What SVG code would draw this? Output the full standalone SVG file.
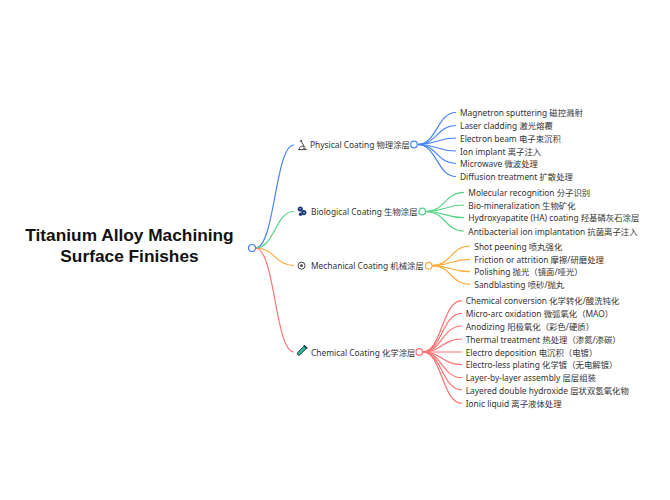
<svg xmlns="http://www.w3.org/2000/svg" width="670" height="500" viewBox="0 0 670 500">
<style>
.lbl{font-family:"Noto Sans","Noto Sans CJK SC",sans-serif;font-size:8.4px;fill:#333;dominant-baseline:central}
.root{font-family:"Liberation Sans",Arial,sans-serif;font-size:17.3px;font-weight:bold;fill:#111;text-anchor:middle}
.lk{fill:none;stroke-width:1.2}
.b{stroke:#4482f6}.g{stroke:#55d385}.o{stroke:#ffab3a}.r{stroke:#ff7272}
.dot{fill:#fff;stroke-width:1.2}
</style>
<rect width="670" height="500" fill="#fff"/>
<g id="connectors">
<path class="lk b" d="M255.5 248C275 248 275 145 294 145"/>
<path class="lk g" d="M255.5 248C275 248 275 211.5 294 211.5"/>
<path class="lk o" d="M255.5 248C275 248 275 265.5 294 265.5"/>
<path class="lk r" d="M255.5 248C275 248 275 352 294 352"/>
<g class="lk b">
<path d="M417.5 144.5C437 144.5 437 112.5 456 112.5"/>
<path d="M417.5 144.5C437 144.5 437 125.5 456 125.5"/>
<path d="M417.5 144.5C437 144.5 437 138 456 138"/>
<path d="M417.5 144.5C437 144.5 437 151 456 151"/>
<path d="M417.5 144.5C437 144.5 437 163.5 456 163.5"/>
<path d="M417.5 144.5C437 144.5 437 176.5 456 176.5"/>
</g>
<g class="lk g">
<path d="M425.8 211.5C445 211.5 445 192.3 464 192.3"/>
<path d="M425.8 211.5C445 211.5 445 205 464 205"/>
<path d="M425.8 211.5C445 211.5 445 217.7 464 217.7"/>
<path d="M425.8 211.5C445 211.5 445 231 464 231"/>
</g>
<g class="lk o">
<path d="M432 265.7C451 265.7 451 246 470 246"/>
<path d="M432 265.7C451 265.7 451 259.3 470 259.3"/>
<path d="M432 265.7C451 265.7 451 271.7 470 271.7"/>
<path d="M432 265.7C451 265.7 451 284.3 470 284.3"/>
</g>
<g class="lk r">
<path d="M422.8 352C442 352 442 300.7 462 300.7"/>
<path d="M422.8 352C442 352 442 313.3 462 313.3"/>
<path d="M422.8 352C442 352 442 326 462 326"/>
<path d="M422.8 352C442 352 442 339 462 339"/>
<path d="M422.8 352C442 352 442 352 462 352"/>
<path d="M422.8 352C442 352 442 364.7 462 364.7"/>
<path d="M422.8 352C442 352 442 377.7 462 377.7"/>
<path d="M422.8 352C442 352 442 390 462 390"/>
<path d="M422.8 352C442 352 442 403.3 462 403.3"/>
</g>
</g>
<g id="root">
<text class="root" x="129.5" y="240.5">Titanium Alloy Machining</text>
<text class="root" x="129.5" y="261.5">Surface Finishes</text>
<circle class="dot b" cx="252" cy="248" r="3.5"/>
</g>
<g id="physical">
<g fill="none" stroke="#444" stroke-width="1">
<path d="M297.8 149.6H306.6M299.4 149.6C299.2 146.6 301.5 145.2 304 146.6M300.8 140.6L304.6 147M299.8 141.6L302.4 140.1M303 148.2H305.8"/>
</g>
<text class="lbl" x="310" y="144.5">Physical Coating 物理涂层</text>
<circle class="dot b" cx="414" cy="144.5" r="3.3"/>
</g>
<g id="physical-children">
<text class="lbl" x="460" y="112.5">Magnetron sputtering 磁控溅射</text>
<text class="lbl" x="460" y="125.5">Laser cladding 激光熔覆</text>
<text class="lbl" x="460" y="138">Electron beam 电子束沉积</text>
<text class="lbl" x="460" y="151">Ion implant 离子注入</text>
<text class="lbl" x="460" y="163.5">Microwave 微波处理</text>
<text class="lbl" x="460" y="176.5">Diffusion treatment 扩散处理</text>
</g>
<g id="biological">
<g fill="#1f3d78">
<circle cx="300.3" cy="209" r="2.6"/>
<circle cx="303.8" cy="212.6" r="2.6"/>
<circle cx="300.6" cy="214.2" r="1.8"/>
<circle cx="300" cy="208.7" r="0.8" fill="#9bb8e6"/>
<circle cx="304" cy="212.7" r="0.8" fill="#9bb8e6"/>
</g>
<text class="lbl" x="311" y="211.5">Biological Coating 生物涂层</text>
<circle class="dot g" cx="422.3" cy="211.5" r="3.3"/>
</g>
<g id="biological-children">
<text class="lbl" x="468.3" y="192.3">Molecular recognition 分子识别</text>
<text class="lbl" x="468.3" y="205">Bio-mineralization 生物矿化</text>
<text class="lbl" x="468.3" y="217.7">Hydroxyapatite (HA) coating 羟基磷灰石涂层</text>
<text class="lbl" x="468.3" y="231">Antibacterial ion implantation 抗菌离子注入</text>
</g>
<g id="mechanical">
<circle cx="301.5" cy="265.7" r="3.5" fill="none" stroke="#444" stroke-width="1"/>
<circle cx="301.5" cy="265.7" r="1.4" fill="#444"/>
<text class="lbl" x="311" y="265.7">Mechanical Coating 机械涂层</text>
<circle class="dot o" cx="428.7" cy="265.7" r="3.3"/>
</g>
<g id="mechanical-children">
<text class="lbl" x="474.3" y="246">Shot peening 喷丸强化</text>
<text class="lbl" x="474.3" y="259.3">Friction or attrition 摩擦/研磨处理</text>
<text class="lbl" x="474.3" y="271.7">Polishing 抛光（镜面/哑光）</text>
<text class="lbl" x="474.3" y="284.3">Sandblasting 喷砂/抛丸</text>
</g>
<g id="chemical">
<g transform="rotate(45 301 351.5)">
<rect x="299.3" y="345" width="3.4" height="11" rx="1.6" fill="#2fb39b" stroke="#1d3b3b" stroke-width="0.8"/>
<rect x="298.6" y="344.3" width="4.8" height="1.6" fill="#1d3b3b"/>
</g>
<text class="lbl" x="311" y="352">Chemical Coating 化学涂层</text>
<circle class="dot r" cx="419.3" cy="352" r="3.3"/>
</g>
<g id="chemical-children">
<text class="lbl" x="465.7" y="300.7">Chemical conversion 化学转化/酸洗钝化</text>
<text class="lbl" x="465.7" y="313.3">Micro-arc oxidation 微弧氧化（MAO）</text>
<text class="lbl" x="465.7" y="326">Anodizing 阳极氧化（彩色/硬质）</text>
<text class="lbl" x="465.7" y="339">Thermal treatment 热处理（渗氮/渗碳）</text>
<text class="lbl" x="465.7" y="352">Electro deposition 电沉积（电镀）</text>
<text class="lbl" x="465.7" y="364.7">Electro-less plating 化学镀（无电解镀）</text>
<text class="lbl" x="465.7" y="377.7">Layer-by-layer assembly 层层组装</text>
<text class="lbl" x="465.7" y="390">Layered double hydroxide 层状双氢氧化物</text>
<text class="lbl" x="465.7" y="403.3">Ionic liquid 离子液体处理</text>
</g>
</svg>
